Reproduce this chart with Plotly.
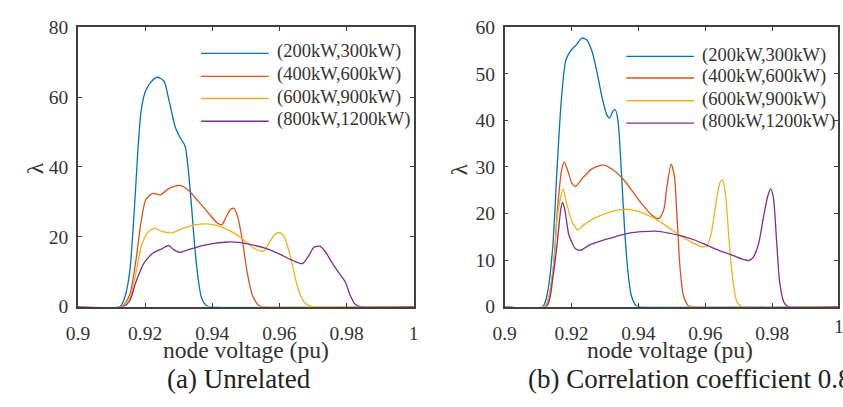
import plotly.graph_objects as go

W, H = 843, 407
FONT = "Liberation Serif, Times New Roman, serif"

series_names = ["(200kW,300kW)", "(400kW,600kW)", "(600kW,900kW)", "(800kW,1200kW)"]
series_colors = ["#0072BD", "#D95319", "#EDB120", "#7E2F8E"]

# ---- (a) Unrelated ----
a_blue_x = [0.900, 0.9125, 0.9139, 0.9154, 0.9168, 0.9178, 0.9188, 0.9200, 0.9217, 0.9236, 0.9256, 0.9270,
            0.9290, 0.9305, 0.9319, 0.9329, 0.9339, 0.9348, 0.9358, 0.9368, 0.9382, 0.9390, 1.000]
a_blue_y = [0, 0, 2.5, 9.8, 27.9, 44, 56, 61.4, 64.3, 65.7, 64.6, 59.6,
            51.4, 48.3, 46, 38.8, 27.9, 17, 8, 2.5, 0.3, 0, 0]

a_red_x = [0.900, 0.9130, 0.9154, 0.9173, 0.9188, 0.9202, 0.9222, 0.9246, 0.9270, 0.9304, 0.9329, 0.9358,
           0.9387, 0.9411, 0.9428, 0.9441, 0.9455, 0.9465, 0.9475, 0.9490, 0.9504, 0.9519, 0.9538, 0.9550, 1.000]
a_red_y = [0, 0, 3.4, 13.4, 24.3, 30.6, 32.4, 32, 33.8, 34.7, 33.3, 30.2,
           27, 24.3, 23.4, 25.6, 27.9, 28.1, 26, 18.8, 9.8, 3.4, 0.3, 0, 0]

a_yel_x = [0.900, 0.9130, 0.9154, 0.9173, 0.9188, 0.9207, 0.9227, 0.9246, 0.9280, 0.9309, 0.9348, 0.9382,
           0.9416, 0.9455, 0.9494, 0.9523, 0.9553, 0.9567, 0.9587, 0.9601, 0.9616, 0.9635, 0.9655, 0.9674,
           0.9694, 0.9705, 1.000]
a_yel_y = [0, 0, 2.5, 9.8, 17, 21.1, 22.5, 21.7, 21.1, 22.3, 23.4, 23.7,
           23.2, 21.6, 19.1, 16.8, 15.9, 17.9, 20.7, 21.2, 19.7, 13.4, 5.3, 1.2,
           0.1, 0, 0]

a_pur_x = [0.900, 0.9135, 0.9154, 0.9173, 0.9197, 0.9222, 0.9251, 0.9270, 0.9285, 0.9304, 0.9329, 0.9368,
           0.9407, 0.9446, 0.9484, 0.9523, 0.9562, 0.9601, 0.9640, 0.9669, 0.9689, 0.9703, 0.9720, 0.9737,
           0.9757, 0.9776, 0.9796, 0.9810, 0.9825, 0.9840, 1.000]
a_pur_y = [0, 0, 1.6, 7.1, 12.5, 15.2, 16.6, 17.5, 16.3, 15.5, 16.3, 17.4,
           18.1, 18.5, 18.3, 17.6, 16.6, 15, 13.2, 12.3, 14.8, 17, 17.3, 15.7,
           12.5, 9.8, 7.1, 3.4, 0.7, 0, 0]

# ---- (b) Correlation coefficient 0.8 ----
b_blue_x = [0.900, 0.9114, 0.9129, 0.9144, 0.9158, 0.9170, 0.9183, 0.9197, 0.9215, 0.9231, 0.9246, 0.9261,
            0.9275, 0.9290, 0.9305, 0.9314, 0.9324, 0.9331, 0.9339, 0.9349, 0.9358, 0.9368, 0.9378, 0.9393,
            0.9405, 1.000]
b_blue_y = [0, 0, 3.3, 12.8, 31.1, 44.7, 52.9, 54.9, 56.3, 57.7, 57.3, 54.9,
            50.8, 45.4, 41.3, 40.5, 42, 42.3, 39.9, 29.1, 17.5, 8, 2.6, 0.2,
            0, 0]

b_red_x = [0.900, 0.9120, 0.9144, 0.9158, 0.9170, 0.9178, 0.9188, 0.9202, 0.9212, 0.9231, 0.9261, 0.9295,
           0.9324, 0.9354, 0.9383, 0.9412, 0.9441, 0.9461, 0.9476, 0.9485, 0.9498, 0.9508, 0.9515, 0.9524,
           0.9534, 0.9549, 0.9560, 1.000]
b_red_y = [0, 0, 7.3, 20.9, 29.1, 31.1, 29.4, 26.4, 25.8, 27.4, 29.6, 30.4,
           29.4, 27.4, 24.7, 21.9, 19.6, 18.9, 20.9, 25.7, 30.6, 27.7, 19.6, 8.7,
           2.6, 0.2, 0, 0]

b_yel_x = [0.900, 0.9120, 0.9144, 0.9158, 0.9168, 0.9175, 0.9185, 0.9202, 0.9219, 0.9236, 0.9266, 0.9305,
           0.9344, 0.9368, 0.9402, 0.9441, 0.9480, 0.9520, 0.9559, 0.9588, 0.9603, 0.9617, 0.9632, 0.9644,
           0.9651, 0.9661, 0.9671, 0.9683, 0.9695, 0.9710, 1.000]
b_yel_y = [0, 0, 7.3, 19.6, 23.6, 25.3, 22.3, 18.2, 16.5, 17.5, 18.9, 20.1,
           20.8, 20.9, 20.4, 19.2, 17.5, 15.5, 13.8, 12.9, 12.9, 15.5, 22.3, 26.7,
           27.2, 23.6, 14.1, 5.3, 0.9, 0, 0]

b_pur_x = [0.900, 0.9125, 0.9144, 0.9158, 0.9168, 0.9173, 0.9180, 0.9192, 0.9212, 0.9227, 0.9256, 0.9295,
           0.9334, 0.9373, 0.9412, 0.9451, 0.9490, 0.9529, 0.9568, 0.9607, 0.9646, 0.9686, 0.9715, 0.9730,
           0.9744, 0.9759, 0.9773, 0.9786, 0.9795, 0.9803, 0.9813, 0.9822, 0.9835, 0.9847, 1.000]
b_pur_y = [0, 0, 6, 14.1, 20.9, 22.4, 20.9, 15.5, 12.4, 12.1, 13.3, 14.3,
           15.1, 15.8, 16.1, 16.2, 15.8, 15.2, 14.3, 13.1, 11.9, 10.9, 10.1, 9.9,
           10.7, 13.5, 18.9, 23.6, 25.3, 23.6, 14.1, 5.3, 0.9, 0, 0]

x_tickvals = [0.9, 0.92, 0.94, 0.96, 0.98, 1.0]
x_ticktext = ["0.9", "0.92", "0.94", "0.96", "0.98", "1"]
ya_tickvals = [0, 20, 40, 60, 80]
yb_tickvals = [0, 10, 20, 30, 40, 50, 60]
x_title = "node voltage (pu)"
y_title = "λ"
sub_a = "(a) Unrelated"
sub_b = "(b) Correlation coefficient 0.8"

panel_a = [(a_blue_x, a_blue_y), (a_red_x, a_red_y), (a_yel_x, a_yel_y), (a_pur_x, a_pur_y)]
panel_b = [(b_blue_x, b_blue_y), (b_red_x, b_red_y), (b_yel_x, b_yel_y), (b_pur_x, b_pur_y)]

fig = go.Figure()
for panel, xa, ya in [(panel_a, "x", "y"), (panel_b, "x2", "y2")]:
    for (xs, ys), name, col in zip(panel, series_names, series_colors):
        fig.add_trace(go.Scatter(x=xs, y=ys, mode="lines", name=name, xaxis=xa, yaxis=ya,
                                 line=dict(color=col, width=1.3, shape="spline", smoothing=0.7),
                                 showlegend=False))

def px(x):
    return x / W

def py(y):
    return 1 - y / H

AX = "#404040"
TXT = "#333333"
TICKF = dict(family=FONT, size=19.5, color=TXT)
common_x = dict(tickmode="array", tickvals=x_tickvals, ticktext=x_ticktext, ticks="inside", ticklen=4,
                tickcolor=AX, tickwidth=1.3, showline=True, linecolor=AX, linewidth=1.5, mirror="allticks",
                showgrid=False, zeroline=False, tickfont=TICKF, ticklabelstandoff=8)
common_y = dict(tickmode="array", ticks="inside", ticklen=4, tickcolor=AX, tickwidth=1.3, showline=True,
                linecolor=AX, linewidth=1.5, mirror="allticks", showgrid=False, zeroline=False,
                tickfont=TICKF, ticklabelstandoff=4)

y_top, y_bot = 18.3, 312.7
b_left, b_scale = 502.7, 3415.0
fig.update_layout(
    width=W, height=H, margin=dict(l=0, r=0, t=0, b=0),
    paper_bgcolor="white", plot_bgcolor="white", showlegend=False,
    xaxis=dict(domain=[px(67.3), px(410)], range=[0.9, 1.0], anchor="y", **common_x),
    yaxis=dict(domain=[py(y_bot), py(y_top)], range=[0, 80], tickvals=ya_tickvals, anchor="x", **common_y),
    xaxis2=dict(domain=[px(b_left), 1.0], range=[0.9, 0.9 + (W - b_left) / b_scale], anchor="y2", **common_x),
    yaxis2=dict(domain=[py(y_bot), py(y_top)], range=[0, 60], tickvals=yb_tickvals, anchor="x2", **common_y),
)

ann = []
shapes = []
for cx in (239, 671.5):
    ann.append(dict(x=px(cx), y=py(358), xref="paper", yref="paper", text=x_title, showarrow=False,
                    font=dict(family=FONT, size=23.5, color=TXT), xanchor="center", yanchor="middle"))
for cx, cy in ((23.3, 166.7), (456.7, 167.5)):
    ann.append(dict(x=px(cx), y=py(cy), xref="paper", yref="paper", text=y_title, showarrow=False,
                    textangle=-90, font=dict(family=FONT, size=23, color=TXT),
                    xanchor="center", yanchor="middle"))
ann.append(dict(x=px(231.5), y=py(389), xref="paper", yref="paper", text=sub_a, showarrow=False,
                font=dict(family=FONT, size=27, color="#222222"), xanchor="center", yanchor="middle"))
ann.append(dict(x=px(525), y=py(389), xref="paper", yref="paper", text=sub_b, showarrow=False,
                font=dict(family=FONT, size=27, color="#222222"), xanchor="left", yanchor="middle"))
# partially visible "1" tick label of the right panel (its axis end lies just past the page edge)
ann.append(dict(x=px(844), y=py(333.5), xref="paper", yref="paper", text=x_ticktext[-1], showarrow=False,
                font=TICKF, xanchor="center", yanchor="middle"))

for (lx0, lx1, tx, rows) in [(193, 262, 268, [45.7, 70, 93.3, 117.3]), (627, 696, 702, [49, 71.7, 95.7, 119.3])]:
    for name, col, ry in zip(series_names, series_colors, rows):
        shapes.append(dict(type="line", xref="paper", yref="paper", x0=px(lx0), x1=px(lx1), y0=py(ry), y1=py(ry),
                           line=dict(color=col, width=1.3)))
        ann.append(dict(x=px(tx), y=py(ry - 1.5), xref="paper", yref="paper", text=name, showarrow=False,
                        font=dict(family=FONT, size=18.5, color=TXT), xanchor="left", yanchor="middle"))

fig.update_layout(annotations=ann, shapes=shapes)
fig.write_html("out.html")
